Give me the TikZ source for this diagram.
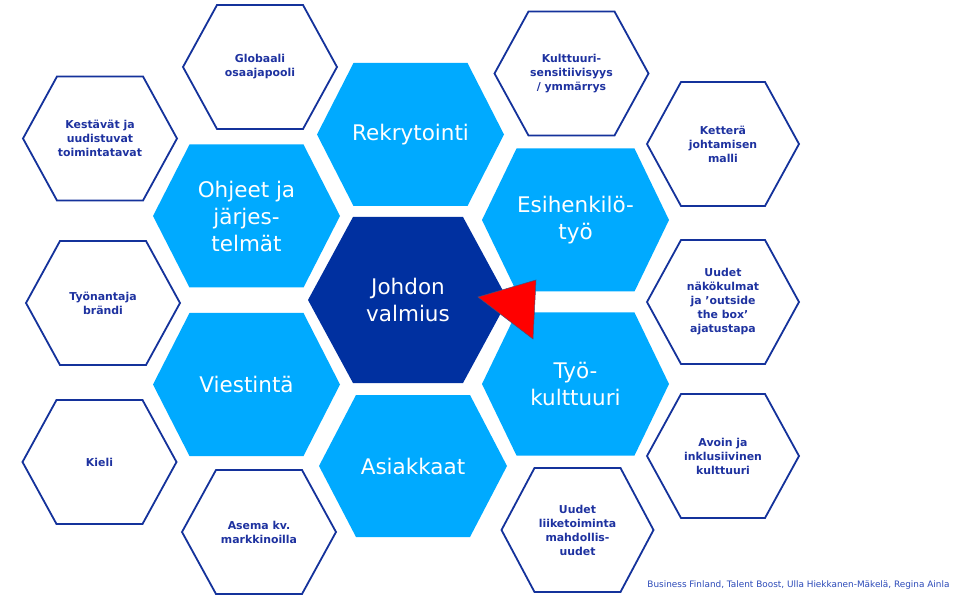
\documentclass[tikz,border=0pt]{standalone}
\usepackage{fontspec}
\setmainfont{DejaVu Sans}
\definecolor{lblue}{RGB}{0,170,255}
\definecolor{cblue}{RGB}{0,48,160}
\definecolor{oblue}{RGB}{20,50,155}
\definecolor{tblue}{RGB}{30,50,160}
\definecolor{fblue}{RGB}{45,75,185}
\tikzset{
  lighthex/.style={fill=lblue, draw=none},
  centerhex/.style={fill=cblue, draw=none},
  outlinehex/.style={fill=white, draw=oblue, line width=1.8pt, line join=miter},
  biglabel/.style={text=white, align=center, font=\fontsize{21.5}{27}\selectfont},
  smalllabel/.style={text=tblue, align=center, font=\bfseries\fontsize{10.9}{14}\selectfont},
}
% #1 style, #2 name, #3 cx, #4 cy, #5 a, #6 b, #7 h, #8 label style, #9 text
\newcommand\hexcell[9]{%
  \begin{scope}[shift={(#3,#4)}]
    \path[#1] (-#5,0) -- (-#6,-#7) -- (#6,-#7) -- (#5,0) -- (#6,#7) -- (-#6,#7) -- cycle;
    \node[#8] (#2) at (0,0) {#9};
  \end{scope}}
\begin{document}
\begin{tikzpicture}[x=1pt, y=-1pt]
\useasboundingbox (0,0) rectangle (970,596);
\fill[white] (0,0) rectangle (970,596);
% centre
\hexcell{centerhex}{johdon}{408}{300}{100}{55}{83}{biglabel}{Johdon\\valmius}
% inner ring
\hexcell{lighthex}{rek}{410.5}{134.5}{93.5}{57}{71.5}{biglabel}{Rekrytointi}
\hexcell{lighthex}{ohjeet}{246.5}{216}{93.5}{57}{71.5}{biglabel}{Ohjeet ja\\järjes-\\telmät}
\hexcell{lighthex}{esi}{575.5}{220}{93.5}{59}{71.5}{biglabel}{Esihenkilö-\\työ}
\hexcell{lighthex}{viest}{246.5}{384.5}{93.5}{57}{71.5}{biglabel}{Viestintä}
\hexcell{lighthex}{tyo}{575.5}{384}{93.5}{59}{71.5}{biglabel}{Työ-\\kulttuuri}
\hexcell{lighthex}{asiak}{413}{466}{94}{57}{71}{biglabel}{Asiakkaat}
% outer ring
\hexcell{outlinehex}{glob}{260}{67}{77}{43}{62}{smalllabel}{Globaali\\osaajapooli}
\hexcell{outlinehex}{kest}{100}{138.5}{77}{43}{62}{smalllabel}{Kestävät ja\\uudistuvat\\toimintatavat}
\hexcell{outlinehex}{tyon}{103}{303}{77}{43}{62}{smalllabel}{Työnantaja\\brändi}
\hexcell{outlinehex}{kieli}{99.5}{462}{77}{43}{62}{smalllabel}{Kieli}
\hexcell{outlinehex}{asema}{259}{532}{77}{43}{62}{smalllabel}{Asema kv.\\markkinoilla}
\hexcell{outlinehex}{kult}{571.5}{73.5}{77}{43}{62}{smalllabel}{Kulttuuri-\\sensitiivisyys\\/ ymmärrys}
\hexcell{outlinehex}{kett}{723}{144}{76}{42}{62}{smalllabel}{Ketterä\\johtamisen\\malli}
\hexcell{outlinehex}{uudetn}{723}{302}{76}{42}{62}{smalllabel}{Uudet\\näkökulmat\\ja ’outside\\the box’\\ajatustapa}
\hexcell{outlinehex}{avoin}{723}{456}{76}{42}{62}{smalllabel}{Avoin ja\\inklusiivinen\\kulttuuri}
\hexcell{outlinehex}{uudetl}{577.5}{530}{76}{43}{62}{smalllabel}{Uudet\\liiketoiminta\\mahdollis-\\uudet}
% red pointer
\fill[red, draw={rgb,255:red,70;green,80;blue,120}, line width=0.5pt] (478,297) -- (536,280) -- (533,339) -- cycle;
% footer
\node[text=fblue, font=\fontsize{8.9}{10}\selectfont, anchor=east] (credit) at (953,585) {Business Finland, Talent Boost, Ulla Hiekkanen-Mäkelä, Regina Ainla};
\end{tikzpicture}
\end{document}
